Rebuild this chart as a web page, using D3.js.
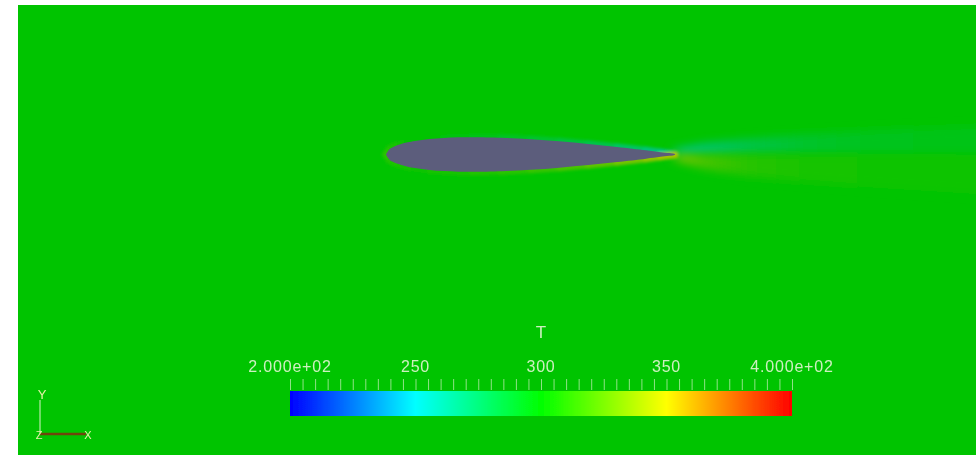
<!DOCTYPE html>
<html>
<head>
<meta charset="utf-8">
<script src="https://cdn.jsdelivr.net/npm/d3@7"></script>
<style>
  html, body { margin: 0; padding: 0; background: #ffffff; }
  svg { display: block; }
</style>
</head>
<body>
<svg id="chart" width="980" height="456"></svg>
<script>
// Temperature field T around a NACA 0012 section, rainbow colour map

// colour map control points
const cmapStops  = [200, 250, 300, 350, 400];
const cmapColors = ["#0000ff", "#00ffff", "#00ff00", "#ffff00", "#ff0000"];

// colour bar ticks
const barTicks      = [200, 250, 300, 350, 400];
const barTickLabels = ["2.000e+02", "250", "300", "350", "4.000e+02"];
const minorStep     = 5;
const fieldTitle    = "T";

// free-stream temperature
const freestreamT = 300;

// NACA 0012 ordinates: chord station x/c and half thickness y/c
const foilX = [0, 0.0125, 0.025, 0.05, 0.075, 0.1, 0.15, 0.2, 0.25, 0.3, 0.4, 0.5, 0.6, 0.7, 0.8, 0.9, 0.95, 1.0];
const foilY = [0, 0.01894, 0.02615, 0.03555, 0.04200, 0.04683, 0.05345, 0.05737, 0.05941, 0.06002, 0.05803, 0.05294, 0.04563, 0.03664, 0.02623, 0.01448, 0.00807, 0.00126];

// surface temperature along upper and lower sides (same stations)
const surfUpperT = [312, 310, 307, 304, 302, 300, 299, 298, 297, 295, 293, 290, 287, 283, 278, 272, 266, 262];
const surfLowerT = [312, 310, 308, 306, 305, 304, 304, 305, 306, 307, 309, 312, 316, 321, 327, 334, 340, 345];

// wake stations downstream (x/c), band temperature and band width (y/c)
const wakeX      = [1.0, 1.1, 1.25, 1.45, 1.7, 2.1];
const wakeUpperT = [262, 272, 282, 289, 293, 295];
const wakeUpperW = [0.02, 0.04, 0.055, 0.07, 0.085, 0.1];
const wakeLowerT = [335, 318, 310, 306, 304, 303];
const wakeLowerW = [0.02, 0.05, 0.075, 0.095, 0.115, 0.14];

// ---------------------------------------------------------------
const svg = d3.select("#chart");
const view = { x: 18, y: 5, w: 958, h: 450 };

const cmap = d3.scaleLinear().domain(cmapStops).range(cmapColors).interpolate(d3.interpolateRgb).clamp(true);
// lit surface appears darker than the raw colour map
const litFactor = 0.77;
const lit = t => {
  const c = d3.rgb(cmap(t));
  return d3.rgb(c.r * litFactor, c.g * litFactor, c.b * litFactor).formatHex();
};

// chord-unit scales
const chordPx = 289;
const xs = d3.scaleLinear().domain([0, 1]).range([386, 386 + chordPx]);
const ys = d3.scaleLinear().domain([0, 1]).range([154.5, 154.5 - chordPx]);

const defs = svg.append("defs");
defs.append("clipPath").attr("id", "viewClip")
  .append("rect").attr("x", view.x).attr("y", view.y).attr("width", view.w).attr("height", view.h);
defs.append("filter").attr("id", "blurWake").attr("x", "-20%").attr("y", "-200%").attr("width", "140%").attr("height", "500%")
  .append("feGaussianBlur").attr("stdDeviation", "6 4");
defs.append("filter").attr("id", "blurEdge").attr("x", "-10%").attr("y", "-100%").attr("width", "120%").attr("height", "300%")
  .append("feGaussianBlur").attr("stdDeviation", 1.8);
defs.append("filter").attr("id", "blurSoft")
  .append("feGaussianBlur").attr("stdDeviation", 0.6);

const field = svg.append("g").attr("clip-path", "url(#viewClip)");

// background: free stream
field.append("rect")
  .attr("x", view.x).attr("y", view.y).attr("width", view.w).attr("height", view.h)
  .attr("fill", lit(freestreamT));

// wake bands
function wakeBand(id, temps, widths, sign) {
  const grad = defs.append("linearGradient").attr("id", id)
    .attr("gradientUnits", "userSpaceOnUse")
    .attr("x1", xs(wakeX[0])).attr("x2", xs(wakeX[wakeX.length - 1]))
    .attr("y1", 0).attr("y2", 0);
  const span = wakeX[wakeX.length - 1] - wakeX[0];
  grad.selectAll("stop").data(wakeX).join("stop")
    .attr("offset", (d) => (d - wakeX[0]) / span)
    .attr("stop-color", (d, i) => lit(temps[i]));
  const pts = wakeX.map((x, i) => [xs(x), ys(sign * widths[i])])
    .concat(wakeX.slice().reverse().map(x => [xs(x), ys(0)]));
  field.append("path")
    .attr("d", d3.line().curve(d3.curveLinear)(pts) + "Z")
    .attr("fill", `url(#${id})`)
    .attr("filter", "url(#blurWake)");
}
wakeBand("wakeUp", wakeUpperT, wakeUpperW, 1);
wakeBand("wakeLo", wakeLowerT, wakeLowerW, -1);

// thermal layer along the surface
const edges = field.append("g").attr("filter", "url(#blurEdge)");
[[surfUpperT, 1], [surfLowerT, -1]].forEach(([temps, sign]) => {
  for (let i = 0; i < foilX.length - 1; i++) {
    edges.append("line")
      .attr("x1", xs(foilX[i])).attr("y1", ys(sign * foilY[i]))
      .attr("x2", xs(foilX[i + 1])).attr("y2", ys(sign * foilY[i + 1]))
      .attr("stroke", lit((temps[i] + temps[i + 1]) / 2))
      .attr("stroke-width", 7)
      .attr("stroke-linecap", "round");
  }
});

// airfoil body
const outline = foilX.map((x, i) => [xs(x), ys(foilY[i])])
  .concat(foilX.slice().reverse().map((x, i) => [xs(x), ys(-foilY[foilY.length - 1 - i])]));
field.append("path")
  .attr("d", d3.line().curve(d3.curveCatmullRom.alpha(0.5))(outline) + "Z")
  .attr("fill", "#5b5d7c")
  .attr("filter", "url(#blurSoft)");

// ---------------------------------------------------------------
// colour bar
const bar = { y: 391, h: 25 };
const bx = d3.scaleLinear().domain([barTicks[0], barTicks[barTicks.length - 1]]).range([290, 792]);

const barGrad = defs.append("linearGradient").attr("id", "barGrad")
  .attr("x1", "0%").attr("x2", "100%").attr("y1", "0%").attr("y2", "0%");
barGrad.selectAll("stop").data(cmapStops).join("stop")
  .attr("offset", d => (d - cmapStops[0]) / (cmapStops[cmapStops.length - 1] - cmapStops[0]))
  .attr("stop-color", d => cmap(d));

const legend = svg.append("g").attr("filter", "url(#blurSoft)");
legend.append("rect")
  .attr("x", bx.range()[0]).attr("y", bar.y)
  .attr("width", bx.range()[1] - bx.range()[0]).attr("height", bar.h)
  .attr("fill", "url(#barGrad)");

const labelColor = "#cdf0c0";
const minorTicks = d3.range(barTicks[0], barTicks[barTicks.length - 1] + minorStep / 2, minorStep);
legend.append("g")
  .attr("transform", `translate(0,${bar.y - 1})`)
  .call(d3.axisTop(bx).tickValues(minorTicks).tickSize(11).tickSizeOuter(0).tickFormat(""))
  .call(g => g.select(".domain").remove())
  .call(g => g.selectAll("line").attr("stroke", labelColor).attr("stroke-opacity", 0.7).attr("stroke-width", 1));

legend.selectAll("text.tl").data(barTicks).join("text")
  .attr("class", "tl")
  .attr("x", d => bx(d))
  .attr("y", 372)
  .attr("text-anchor", "middle")
  .attr("font-family", "Liberation Sans, Arial, sans-serif")
  .attr("font-size", 16)
  .attr("letter-spacing", 0.8)
  .attr("fill", labelColor)
  .text((d, i) => barTickLabels[i]);

legend.append("text")
  .attr("x", bx(300))
  .attr("y", 338)
  .attr("text-anchor", "middle")
  .attr("font-family", "Liberation Sans, Arial, sans-serif")
  .attr("font-size", 17)
  .attr("fill", labelColor)
  .text(fieldTitle);

// ---------------------------------------------------------------
// orientation axes
const triad = svg.append("g").attr("filter", "url(#blurSoft)");
const origin = [40, 434];
triad.append("line")
  .attr("x1", origin[0]).attr("y1", origin[1]).attr("x2", origin[0]).attr("y2", 400)
  .attr("stroke", "#8ae27e").attr("stroke-width", 1.6);
triad.append("line")
  .attr("x1", origin[0]).attr("y1", origin[1]).attr("x2", 86).attr("y2", origin[1])
  .attr("stroke", "#6e4410").attr("stroke-width", 2.4);
const triadText = (x, y, s, size) => triad.append("text")
  .attr("x", x).attr("y", y).attr("text-anchor", "middle")
  .attr("font-family", "Liberation Sans, Arial, sans-serif")
  .attr("font-size", size).attr("fill", "#e6f2a8").text(s);
triadText(42, 399, "Y", 13);
triadText(39, 439, "Z", 11);
triadText(88, 439, "X", 11);
</script>
</body>
</html>
